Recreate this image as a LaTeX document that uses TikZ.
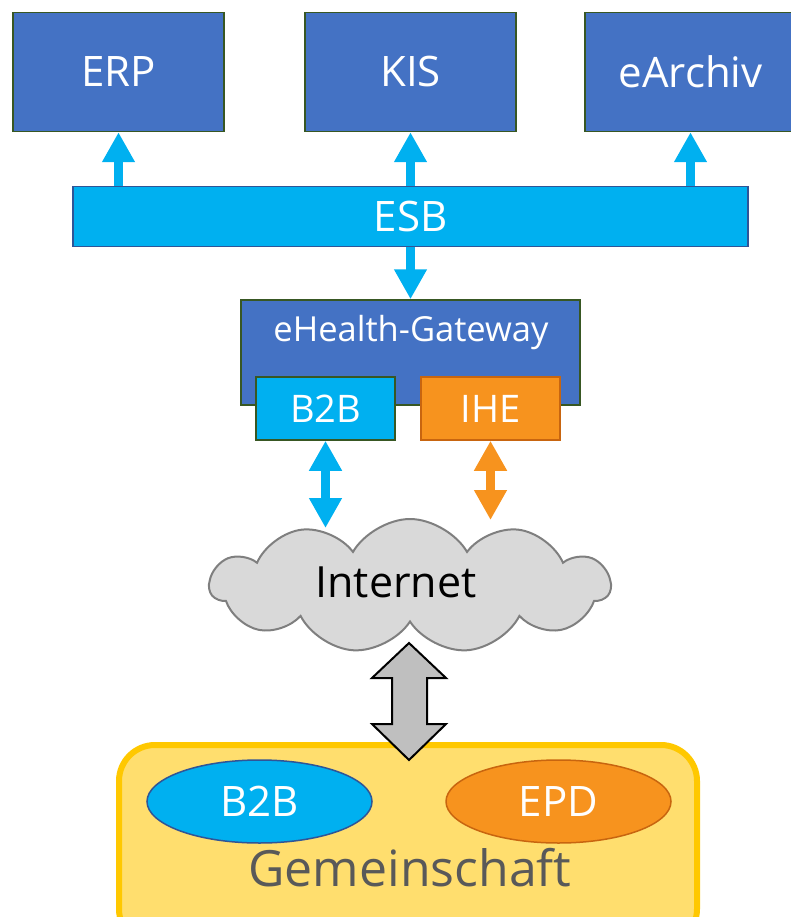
\documentclass[tikz,border=0pt]{standalone}
\usepackage{fontspec}
\setmainfont{Open Sans}
\usetikzlibrary{arrows.meta,shapes.symbols,shapes.geometric}
\definecolor{sysblue}{HTML}{4472C4}
\definecolor{sysedge}{HTML}{385723}
\definecolor{esbcyan}{HTML}{00B0F0}
\definecolor{esbedge}{HTML}{2F5597}
\definecolor{ihe}{HTML}{F7931E}
\definecolor{iheedge}{HTML}{C8650F}
\definecolor{cloudfill}{HTML}{D9D9D9}
\definecolor{cloudedge}{HTML}{7F7F7F}
\definecolor{gemfill}{HTML}{FFDE6E}
\definecolor{gemedge}{HTML}{FFC800}
\definecolor{gemtext}{HTML}{595959}

\begin{document}
\begin{tikzpicture}[x=1pt,y=-1pt,
  sysbox/.style={draw=sysedge,line width=1.5pt,fill=sysblue,text=white,
    minimum width=211pt,minimum height=119pt,inner sep=0pt,
    font=\fontsize{42}{44}\selectfont},
  smallbox/.style={line width=1.5pt,text=white,minimum width=139pt,
    minimum height=63pt,inner sep=0pt,font=\fontsize{38}{40}\selectfont},
  oval/.style={ellipse,line width=1.5pt,text=white,minimum width=225pt,
    minimum height=83pt,inner sep=0pt,font=\fontsize{42}{44}\selectfont},
  bigtip/.tip={Triangle[length=30pt,width=31pt]},
  link/.style={line width=9pt}]
  \useasboundingbox (0,0) rectangle (790,917);

  % Systeme oben
  \node[sysbox] (erp) at (118.5,72) {ERP};
  \node[sysbox] (kis) at (410.5,72) {KIS};
  \node[sysbox] (arch) at (690.5,72) {eArchiv};

  % Bus
  \node[draw=esbedge,line width=1.5pt,fill=esbcyan,text=white,inner sep=0pt,
    minimum width=675pt,minimum height=60pt,font=\fontsize{42}{44}\selectfont]
    (esb) at (410.5,216.5) {ESB};
  \draw[link,esbcyan,-bigtip] (esb.north -| erp.south) -- (erp.south);
  \draw[link,esbcyan,-bigtip] (esb.north -| kis.south) -- (kis.south);
  \draw[link,esbcyan,-bigtip] (esb.north -| arch.south) -- (arch.south);

  % Gateway
  \node[sysbox,minimum width=339pt,minimum height=105pt] (gw) at (410.5,352.5) {};
  \node[text=white,font=\fontsize{34.5}{36}\selectfont] (gwtext) at (411,333) {eHealth-Gateway};
  \draw[link,esbcyan,-bigtip] (esb.south) -- (gw.north);
  \node[smallbox,draw=sysedge,fill=esbcyan] (b2b) at (325.5,408.5) {B2B};
  \node[smallbox,draw=iheedge,fill=ihe] (ihe) at (490.5,408.5) {IHE};

  % Internet
  \node[cloud,cloud puffs=11,cloud puff arc=120,cloud ignores aspect,
    draw=cloudedge,line width=2pt,fill=cloudfill,minimum width=400pt,
    minimum height=134pt,
    label={[font=\fontsize{43}{45}\selectfont,xshift=-14pt,yshift=4pt]center:Internet}]
    (inet) at (410,586) {};
  \coordinate (b2bin) at (325.5,528);
  \coordinate (ihein) at (490.5,520);
  \draw[link,esbcyan,bigtip-bigtip] (b2b.south) -- (b2bin);
  \draw[link,ihe,bigtip-bigtip] (ihe.south) -- (ihein);

  % Gemeinschaft
  \node[draw=gemedge,line width=6pt,fill=gemfill,rounded corners=36pt,
    minimum width=578pt,minimum height=200pt] (gem) at (408,845) {};
  \node[oval,draw=esbedge,fill=esbcyan] (gb2b) at (259.5,801.5) {B2B};
  \node[oval,draw=iheedge,fill=ihe] (epd) at (558.5,801.5) {EPD};
  \node[text=gemtext,font=\fontsize{50}{52}\selectfont] (gemtext) at (410,868) {Gemeinschaft};

  % Doppelpfeil Internet - Gemeinschaft
  \draw[fill=gray!50,line width=2pt,line join=miter]
    (392,678) -- (372,678) -- (409,643) -- (446,678) -- (427,678)
    -- (427,724) -- (446,724) -- (409,760) -- (372,724) -- (392,724) -- cycle;
\end{tikzpicture}
\end{document}
